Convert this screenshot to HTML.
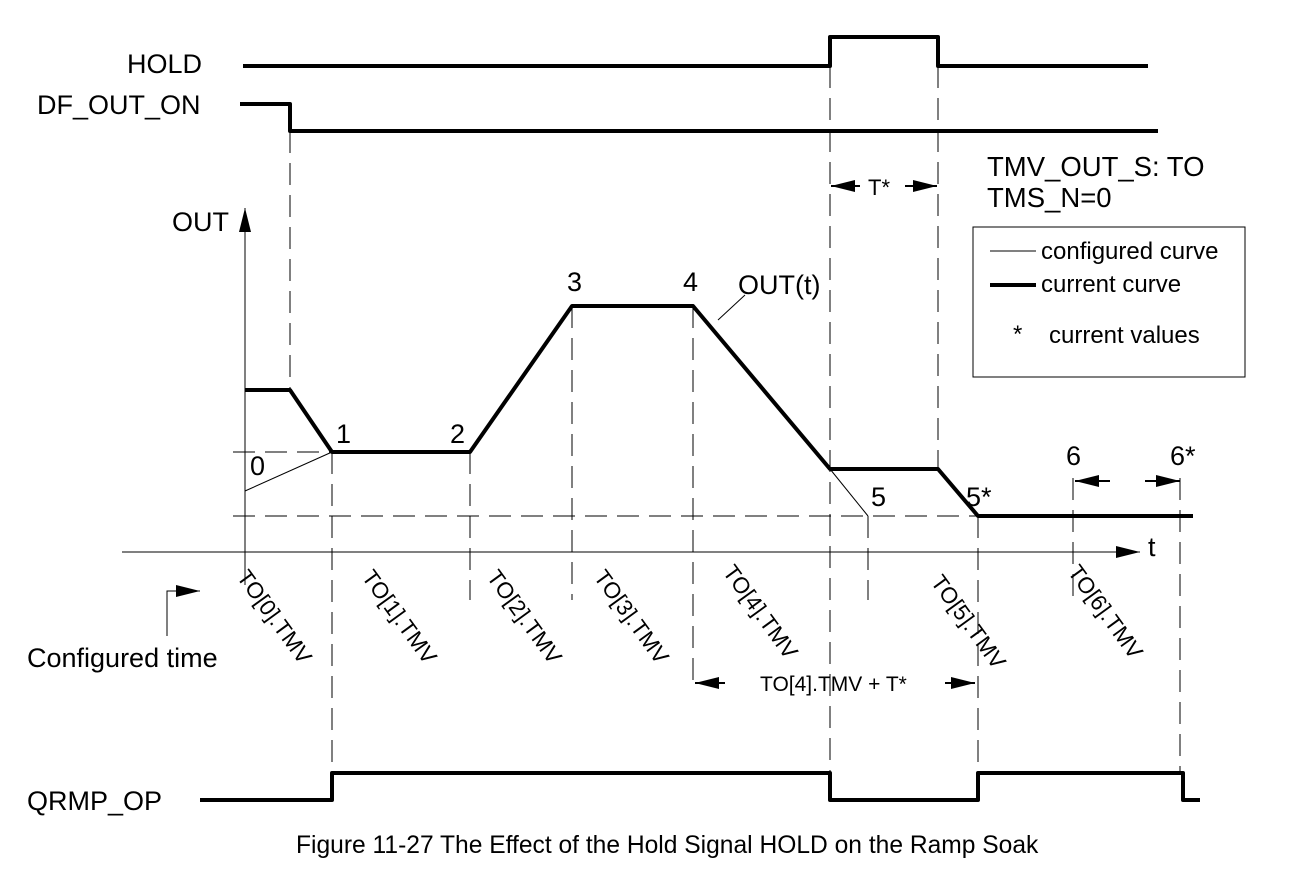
<!DOCTYPE html>
<html><head><style>body{margin:0;background:#fff}svg{display:block}text{font-family:"Liberation Sans",sans-serif;fill:#000}</style></head><body>
<svg width="1293" height="881" viewBox="0 0 1293 881" xmlns="http://www.w3.org/2000/svg">
<defs><marker id="b" markerWidth="24" markerHeight="12" refX="24" refY="6" orient="auto" markerUnits="userSpaceOnUse"><path d="M0,0L24,6L0,12z" fill="#000"/></marker></defs>
<g font-size="27">
<text x="127" y="73">HOLD</text>
<text x="37" y="114">DF_OUT_ON</text>
<text x="172" y="231">OUT</text>
<text x="987" y="176" font-size="27.5">TMV_OUT_S: TO</text>
<text x="987" y="207" font-size="27.5">TMS_N=0</text>
<text x="738" y="294">OUT(t)</text>
<text x="27" y="667">Configured time</text>
<text x="27" y="810">QRMP_OP</text>
<text x="1148" y="556">t</text>
<text x="250" y="475">0</text><text x="336" y="443">1</text><text x="450" y="443">2</text>
<text x="567" y="291">3</text><text x="683" y="291">4</text>
<text x="871" y="506">5</text><text x="966" y="506">5*</text>
<text x="1066" y="465">6</text><text x="1170" y="465">6*</text>
</g>
<text x="868" y="195" font-size="22">T*</text>
<text x="296" y="853" font-size="24.6">Figure 11-27 The Effect of the Hold Signal HOLD on the Ramp Soak</text>
<text x="760" y="691" font-size="21">TO[4].TMV + T*</text>
<g font-size="22.5">
<text transform="translate(236,577) rotate(54)">TO[0].TMV</text>
<text transform="translate(361,577) rotate(54)">TO[1].TMV</text>
<text transform="translate(486,577) rotate(54)">TO[2].TMV</text>
<text transform="translate(593,577) rotate(54)">TO[3].TMV</text>
<text transform="translate(722,572) rotate(54)">TO[4].TMV</text>
<text transform="translate(930,582) rotate(54)">TO[5].TMV</text>
<text transform="translate(1067,572) rotate(54)">TO[6].TMV</text>
</g>
<rect x="973" y="227" width="272" height="150" fill="none" stroke="#000" stroke-width="1"/>
<line x1="990" y1="251" x2="1036" y2="251" stroke="#000" stroke-width="1"/>
<line x1="990" y1="285" x2="1036" y2="285" stroke="#000" stroke-width="4"/>
<g font-size="24"><text x="1041" y="259">configured curve</text><text x="1041" y="292">current curve</text><text x="1013" y="342">*</text><text x="1049" y="343">current values</text></g>
<g stroke="#000" stroke-width="1" stroke-dasharray="22,10" fill="none">
<line x1="290" y1="131" x2="290" y2="390"/>
<line x1="233" y1="452" x2="332" y2="452"/>
<line x1="233" y1="516" x2="978" y2="516"/>
<line x1="332" y1="452" x2="332" y2="775"/>
<line x1="470" y1="452" x2="470" y2="600"/>
<line x1="572" y1="306" x2="572" y2="600"/>
<line x1="693" y1="306" x2="693" y2="690"/>
<line x1="830" y1="66" x2="830" y2="800"/>
<line x1="868" y1="516" x2="868" y2="600"/>
<line x1="938" y1="66" x2="938" y2="469"/>
<line x1="978" y1="516" x2="978" y2="775"/>
<line x1="1073" y1="478" x2="1073" y2="600"/>
<line x1="1180" y1="478" x2="1180" y2="775"/>
</g>
<g stroke="#000" stroke-width="1" fill="none">
<line x1="122" y1="552" x2="1140" y2="552" marker-end="url(#b)"/>
<line x1="245" y1="585" x2="245" y2="208" marker-end="url(#b)"/>
<line x1="245" y1="491" x2="332" y2="452"/>
<line x1="830" y1="469" x2="868" y2="516"/>
<polyline points="167,636 167,591 200,591" marker-end="url(#b)"/>
<line x1="860" y1="186" x2="831" y2="186" stroke-width="2" marker-end="url(#b)"/>
<line x1="905" y1="186" x2="937" y2="186" stroke-width="2" marker-end="url(#b)"/>
<line x1="725" y1="683" x2="695" y2="683" stroke-width="2" marker-end="url(#b)"/>
<line x1="945" y1="683" x2="975" y2="683" stroke-width="2" marker-end="url(#b)"/>
<line x1="1110" y1="481" x2="1075" y2="481" stroke-width="2" marker-end="url(#b)"/>
<line x1="1145" y1="481" x2="1180" y2="481" stroke-width="2" marker-end="url(#b)"/>
<line x1="718" y1="320" x2="745" y2="295"/>
</g>
<g stroke="#000" stroke-width="4" fill="none" stroke-linejoin="round">
<polyline points="243,66 830,66 830,37 938,37 938,66 1148,66"/>
<polyline points="240,104 290,104 290,131 1158,131"/>
<polyline points="245,390 290,390 332,452 470,452 572,306 693,306 830,469 938,469 978,516 1193,516"/>
<polyline points="200,800 332,800 332,773 830,773 830,800 978,800 978,773 1183,773 1183,800 1200,800"/>
</g>
</svg>
</body></html>
